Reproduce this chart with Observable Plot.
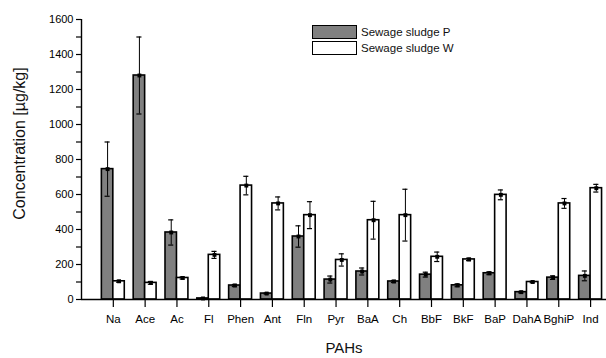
<!DOCTYPE html>
<html>
<head>
<meta charset="utf-8">
<script src="https://cdn.jsdelivr.net/npm/d3@7"></script>
<script src="https://cdn.jsdelivr.net/npm/@observablehq/plot@0.6"></script>
<style>
  body { margin: 0; background: #fff; }
  #wrap { position: relative; width: 606px; height: 358px; font-family: "Liberation Sans", Arial, sans-serif; }
  .lg-box { position: absolute; left: 312px; width: 45px; height: 14px; box-sizing: border-box; border: 1.6px solid #000; }
  .lg-txt { position: absolute; left: 361px; font-size: 11.5px; line-height: 14px; color: #111; white-space: nowrap; }
</style>
</head>
<body>
<div id="wrap"></div>
<script>
const categories = ["Na","Ace","Ac","Fl","Phen","Ant","Fln","Pyr","BaA","Ch","BbF","BkF","BaP","DahA","BghiP","Ind"];
const seriesNames = ["Sewage sludge P", "Sewage sludge W"];
const pMean = [745, 1280, 383, 6, 80, 34, 360, 114, 160, 103, 142, 81, 150, 42, 125, 135];
const pErr  = [155, 220, 72, 2, 6, 3, 61, 20, 20, 6, 14, 8, 8, 4, 10, 28];
const wMean = [104, 95, 123, 255, 651, 549, 482, 226, 453, 482, 244, 229, 598, 100, 549, 636];
const wErr  = [5, 8, 6, 20, 53, 37, 77, 35, 108, 148, 27, 7, 28, 4, 28, 22];
const yTicks = [0, 200, 400, 600, 800, 1000, 1200, 1400, 1600];
const yMinorTicks = [100, 300, 500, 700, 900, 1100, 1300, 1500];

const BW = 0.36;
const pRows = categories.map((c, i) => ({cat: c, x1: i + 1 - BW, x2: i + 1, xc: i + 1 - BW / 2, mean: pMean[i], err: pErr[i]}));
const wRows = categories.map((c, i) => ({cat: c, x1: i + 1, x2: i + 1 + BW, xc: i + 1 + BW / 2, mean: wMean[i], err: wErr[i]}));
const rows = pRows.concat(wRows);
const positions = categories.map((c, i) => i + 1);
const CAP = 0.08;

const chart = Plot.plot({
  width: 606,
  height: 358,
  marginLeft: 81,
  marginRight: 0,
  marginTop: 19,
  marginBottom: 59,
  style: {fontFamily: "'Liberation Sans', Arial, sans-serif", fontSize: "11px", color: "#000", background: "#fff"},
  x: {domain: [0, 16.5]},
  y: {domain: [0, 1600]},
  marks: [
    Plot.rectY(pRows, {x1: "x1", x2: "x2", y1: 0, y2: "mean", fill: "#808080", stroke: "#000", strokeWidth: 1.6}),
    Plot.rectY(wRows, {x1: "x1", x2: "x2", y1: 0, y2: "mean", fill: "#ffffff", stroke: "#000", strokeWidth: 1.6}),
    Plot.ruleX(rows, {x: "xc", y1: d => d.mean - d.err, y2: d => d.mean + d.err, stroke: "#000", strokeWidth: 1}),
    Plot.ruleY(rows, {y: d => d.mean + d.err, x1: d => d.xc - CAP, x2: d => d.xc + CAP, stroke: "#000", strokeWidth: 1.2}),
    Plot.ruleY(rows, {y: d => d.mean - d.err, x1: d => d.xc - CAP, x2: d => d.xc + CAP, stroke: "#000", strokeWidth: 1.2}),
    Plot.dot(rows, {x: "xc", y: "mean", symbol: "square", r: 2.2, fill: "#000", stroke: "none"}),
    Plot.ruleX([0], {stroke: "#000", strokeWidth: 1.4}),
    Plot.ruleY([0], {stroke: "#000", strokeWidth: 1.4}),
    Plot.axisX({ticks: positions, tickFormat: i => categories[i - 1], tickSize: 8, tickPadding: 7, fontSize: 11.5, label: null, strokeWidth: 1.2}),
    Plot.axisY({ticks: yTicks, tickFormat: d3.format("d"), tickSize: 5, tickPadding: 3, fontSize: 11, label: null, strokeWidth: 1.2}),
    Plot.axisY({ticks: yMinorTicks, tickFormat: () => "", tickSize: 5, label: null, strokeWidth: 1.2}),
    Plot.text(["Concentration [µg/kg]"], {frameAnchor: "left", dx: -62, dy: -16, rotate: -90, textAnchor: "middle", fontSize: 16, fill: "#111"}),
    Plot.text(["PAHs"], {frameAnchor: "bottom", dy: 53, textAnchor: "middle", fontSize: 15, fill: "#111"})
  ]
});

const wrap = document.getElementById("wrap");
wrap.appendChild(chart);
const legendColors = ["#808080", "#ffffff"];
const legendTops = [25, 41];
seriesNames.forEach((name, i) => {
  const b = document.createElement("div");
  b.className = "lg-box";
  b.style.top = legendTops[i] + "px";
  b.style.background = legendColors[i];
  wrap.appendChild(b);
  const t = document.createElement("div");
  t.className = "lg-txt";
  t.style.top = legendTops[i] + "px";
  t.textContent = name;
  wrap.appendChild(t);
});
chart.style.position = "absolute";
chart.style.left = "0";
chart.style.top = "0";
</script>
</body>
</html>
